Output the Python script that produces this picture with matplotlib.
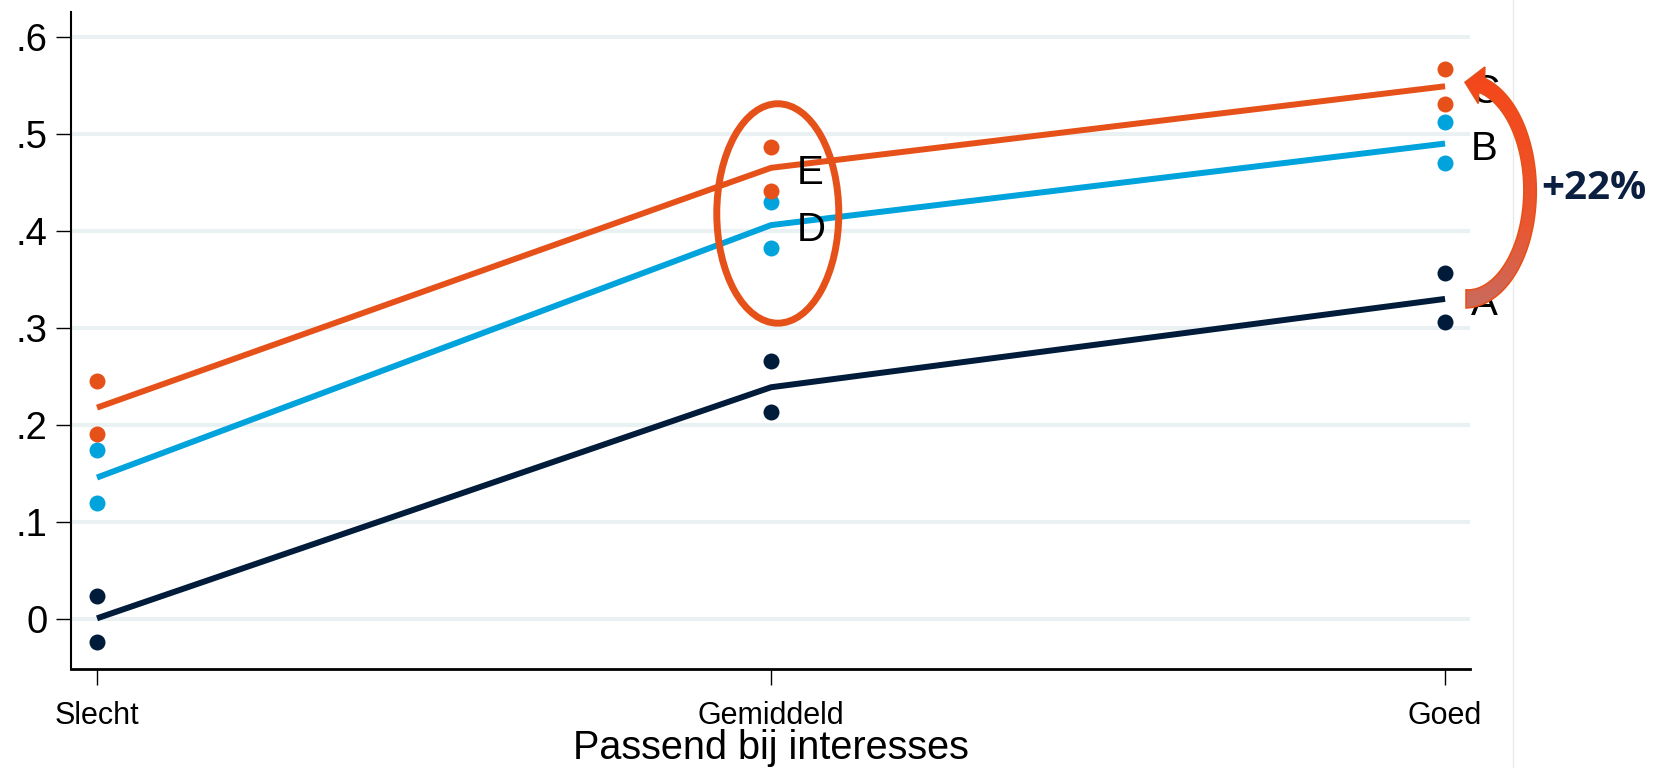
import numpy as np
import matplotlib
matplotlib.use("Agg")
import matplotlib.pyplot as plt
from matplotlib.patches import Ellipse, Polygon
from matplotlib.lines import Line2D
from matplotlib.colors import LinearSegmentedColormap

plt.rcParams['font.family'] = ['Liberation Sans', 'DejaVu Sans']

# ---------------- data ----------------
categories = ["Slecht", "Gemiddeld", "Goed"]
xpos = [1, 2, 3]

# fitted lines
low_fit = [0.001, 0.239, 0.330]     # navy  (A)
mid_fit = [0.146, 0.406, 0.490]     # cyan  (B, D)
high_fit = [0.218, 0.465, 0.549]    # orange (C, E)

# confidence bounds (dots)
low_upper = [0.024, 0.266, 0.357]
low_lower = [-0.023, 0.214, 0.306]
mid_upper = [0.174, 0.430, 0.512]
mid_lower = [0.120, 0.382, 0.470]
high_upper = [0.245, 0.486, 0.567]
high_lower = [0.191, 0.441, 0.531]

yticks = [0, 0.1, 0.2, 0.3, 0.4, 0.5, 0.6]
ytick_labels = ["0", ".1", ".2", ".3", ".4", ".5", ".6"]
xlabel = "Passend bij interesses"
arrow_text = "+22%"

NAVY = "#011C3B"
CYAN = "#00A3DC"
ORANGE = "#E6511A"
GRID = "#EAF1F3"

W, H = 1655, 768
fig = plt.figure(figsize=(W / 100, H / 100), dpi=100)
ax = fig.add_axes([71 / W, 1 - 669 / H, (1470 - 71) / W, (669 - 12) / H])

ax.set_xlim(0.9614, 3.037)
ax.set_ylim(-0.0512, 0.6255)

# grid
for yv in yticks:
    ax.axhline(yv, color=GRID, lw=2.9, zorder=0)

series = [
    (low_fit, low_upper, low_lower, NAVY),
    (mid_fit, mid_upper, mid_lower, CYAN),
    (high_fit, high_upper, high_lower, ORANGE),
]
for fit, up, lo, col in series:
    ax.plot(xpos, fit, color=col, lw=4.3, solid_capstyle='butt', zorder=3)
    ax.plot(xpos, up, 'o', color=col, ms=11.5, mec='none', zorder=4)
    ax.plot(xpos, lo, 'o', color=col, ms=11.5, mec='none', zorder=4)

# point labels
lab_dx = 0.038
lab_dy = -0.0055
def plabel(xv, yv, s):
    ax.text(xv + lab_dx, yv + lab_dy, s, fontsize=29, va='center', ha='left',
            zorder=6, clip_on=False)

plabel(xpos[1], high_fit[1], "E")
plabel(xpos[1], mid_fit[1], "D")
plabel(xpos[2], high_fit[2], "C")
plabel(xpos[2], mid_fit[2], "B")
plabel(xpos[2], low_fit[2], "A")

# ellipse highlight around Gemiddeld
ell = Ellipse((2.010, 0.418), width=0.181, height=0.226, fill=False,
              ec=ORANGE, lw=5, zorder=5)
ax.add_patch(ell)

# axes styling
ax.set_xticks(xpos)
ax.set_xticklabels(categories, fontsize=22)
ax.set_yticks(yticks)
ax.set_yticklabels(ytick_labels, fontsize=27.5)
ax.tick_params(axis='y', length=11, width=1.0, pad=6)
ax.tick_params(axis='x', length=11.5, width=1.0, pad=11.5)
ax.set_xlabel(xlabel, fontsize=28.5, labelpad=-1.5)
for s in ['top', 'right']:
    ax.spines[s].set_visible(False)
ax.spines['left'].set_linewidth(1.5)
ax.spines['bottom'].set_linewidth(2.0)

# faint region border
fig.add_artist(Line2D([1513 / W, 1513 / W], [0, 1], transform=fig.transFigure,
                      color="#E6ECEE", lw=1.0))

# ---------------- curved arrow (overlay, pixel coords, y down) ----------------
ov = fig.add_axes([0, 0, 1, 1], zorder=10)
ov.set_xlim(0, W)
ov.set_ylim(H, 0)
ov.axis('off')
ov.patch.set_visible(False)

fig.canvas.draw()
def to_px(xv, yv):
    dx, dy = ax.transData.transform((xv, yv))
    return dx, H - dy

xg, y_tail = to_px(xpos[2], low_fit[2])
_, y_tipv = to_px(xpos[2], high_fit[2])
tail_x = xg + 21
tip = np.array([xg + 20, y_tipv - 4])
y_hb = tip[1] + 3
rx = 64.0
cx = tail_x
th_end = np.deg2rad(-76)
ry = (y_tail - y_hb) / (1 + np.sin(-th_end))
cy = y_tail - ry
th = np.linspace(np.pi / 2, th_end, 160)
P = np.column_stack([cx + rx * np.cos(th), cy + ry * np.sin(th)])
nrm = np.column_stack([np.cos(th) / rx, np.sin(th) / ry])
nrm /= np.linalg.norm(nrm, axis=1)[:, None]
t = np.linspace(0, 1, len(th))
wid = 9.0 * (1 - t) ** 2 + 2 * 4.2 * t * (1 - t) + 7.5 * t ** 2
outer = P + wid[:, None] * nrm
inner = P - wid[:, None] * nrm
B = P[-1]
d = tip - B
d /= np.linalg.norm(d)
nh = np.array([-d[1], d[0]])
if np.dot(nh, nrm[-1]) < 0:
    nh = -nh
hw = 18.5
verts = np.vstack([outer, [B + hw * nh], [tip], [B - hw * nh], inner[::-1]])
poly = Polygon(verts, closed=True, facecolor='none', edgecolor="#E8501A", lw=1.2, zorder=11)
ov.add_patch(poly)
cmap = LinearSegmentedColormap.from_list("arr", ["#F4461A", "#F04F22", "#E85833", "#C96B5E"])
xmin, ymin = verts.min(axis=0)
xmax, ymax = verts.max(axis=0)
grad = np.linspace(0, 1, 256)[:, None]
im = ov.imshow(grad, cmap=cmap, extent=(xmin, xmax, ymax, ymin), origin='upper',
               aspect='auto', zorder=10.5, interpolation='bilinear')
im.set_clip_path(poly)
ov.set_xlim(0, W)
ov.set_ylim(H, 0)

ov.text(cx + rx + 64, cy - 2, arrow_text, fontsize=29, fontweight='bold', family='Open Sans',
        color="#0B1F40", ha='center', va='center', zorder=12)

fig.savefig("out.png", dpi=100)
